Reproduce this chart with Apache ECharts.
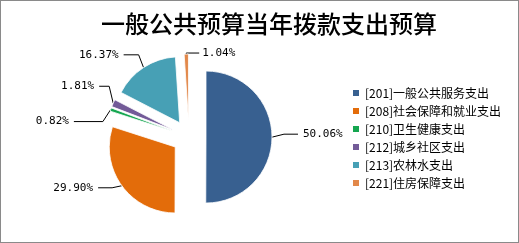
<!DOCTYPE html>
<html><head><meta charset="utf-8">
<script src="https://cdn.jsdelivr.net/npm/echarts@6/dist/echarts.min.js"></script>
<style>html,body{margin:0;padding:0;background:#fff;}#c{width:517px;height:241px;border:1px solid #8a8a8a;}</style>
</head><body><div id="c"></div>
<script>
const categories = ['[201]一般公共服务支出','[208]社会保障和就业支出','[210]卫生健康支出','[212]城乡社区支出','[213]农林水支出','[221]住房保障支出'];
const percents = [50.06, 29.90, 0.82, 1.81, 16.37, 1.04];
const colors = ['#386090','#E36C0A','#15A650','#735B98','#47A0B5','#E2884A'];
const titleText = '一般公共预算当年拨款支出预算';
// label nudges (dx, dy, flipToRight) to mimic the reference's label placement
const labelNudge = [[-4,-3,0],[4,-5,0],[-11,9,0],[8,-12,0],[3,-12,0],[0,2,1]];

function layoutLabel(p){
  const n = labelNudge[p.dataIndex];
  const pts = p.labelLinePoints;
  const r = p.labelRect;
  if (!pts || pts.length < 3) return {dx:n[0], dy:n[1]};
  if (n[2]) {
    const p1 = [pts[1][0], pts[1][1] + n[1]];
    const end = [p1[0] + 13 + n[0], p1[1]];
    return {dx: end[0] + 3 - r.x, dy: p1[1] - (r.y + r.height/2),
      labelLinePoints:[pts[0].slice(), p1, end]};
  }
  return {dx:n[0], dy:n[1],
    labelLinePoints:[pts[0].slice(), [pts[1][0], pts[1][1]+n[1]], [pts[2][0]+n[0], pts[2][1]+n[1]]]};
}

const chart = echarts.init(document.getElementById('c'), null, {renderer:'canvas'});
chart.setOption({
  animation:false,
  title:{text:titleText,left:95,top:6,textStyle:{fontFamily:'Noto Sans CJK SC',fontSize:24,fontWeight:500,color:'#000'}},
  legend:{orient:'vertical',left:345,top:81,itemWidth:8,itemHeight:8,itemGap:6,icon:'rect',
    textStyle:{fontFamily:'Noto Sans CJK SC',fontSize:12,color:'#000'},data:categories},
  series:[{
    type:'pie',center:[188,136],radius:66,startAngle:90,clockwise:true,
    selectedMode:'multiple',selectedOffset:17,avoidLabelOverlap:true,
    itemStyle:{borderColor:'#fff',borderWidth:0.8},
    label:{show:true,position:'outside',fontFamily:'DejaVu Sans Mono',fontSize:11,color:'#000',
      formatter:p=>p.value.toFixed(2)+'%'},
    labelLine:{show:true,length:12,length2:18,lineStyle:{color:'#000',width:1}},
    labelLayout:layoutLabel,
    emphasis:{disabled:true},
    data:categories.map((n,i)=>({name:n,value:percents[i],selected:true,itemStyle:{color:colors[i]},
      labelLine: i===5 ? {length:3} : undefined}))
  }]
});
</script></body></html>
